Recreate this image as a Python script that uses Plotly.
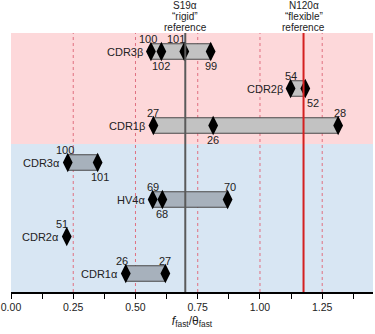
import plotly.graph_objects as go

# ---- data ----
regions = ["CDR3β", "CDR2β", "CDR1β", "CDR3α", "HV4α", "CDR2α", "CDR1α"]
chain = ["β", "β", "β", "α", "α", "α", "α"]
residue_values = [
    [0.562, 0.604, 0.696, 0.802],
    [1.123, 1.182],
    [0.572, 0.812, 1.314],
    [0.228, 0.348],
    [0.569, 0.608, 0.870],
    [0.224],
    [0.461, 0.620],
]
residue_labels = [
    ["100", "102", "101", "99"],
    ["54", "52"],
    ["27", "26", "28"],
    ["100", "101"],
    ["69", "68", "70"],
    ["51"],
    ["26", "27"],
]
label_side = [
    ["up", "down", "up", "down"],
    ["up", "down"],
    ["up", "down", "up"],
    ["up", "down"],
    ["up", "down", "up"],
    ["up"],
    ["up", "up"],
]
label_dx = [
    [-3, 0, -8, 0],
    [0, 8],
    [0, 0, 2],
    [-3, 2],
    [0, 0, 2],
    [-5],
    [-4, 0],
]
rigid_ref = 0.70
flexible_ref = 1.175
rigid_text = ["S19α", "“rigid”", "reference"]
flexible_text = ["N120α", "“flexible”", "reference"]
grid_vals = [0.25, 0.50, 0.75, 1.00, 1.25]
x_ticks = [0.0, 0.25, 0.5, 0.75, 1.0, 1.25]
x_tick_text = ["0.00", "0.25", "0.50", "0.75", "1.00", "1.25"]

FONT = "Liberation Sans, Arial, sans-serif"
n = len(regions)
ypos = [n - 1 - i for i in range(n)]

fig = go.Figure()
shapes = []
annotations = []

# background bands
n_beta = chain.count("β")
shapes.append(dict(type="rect", xref="paper", yref="y", x0=0, x1=1,
                   y0=n - 1 - n_beta + 0.5, y1=n - 0.5, fillcolor="#fdd8da",
                   line_width=0, layer="below"))
shapes.append(dict(type="rect", xref="paper", yref="y", x0=0, x1=1,
                   y0=-0.5, y1=n - 1 - n_beta + 0.5, fillcolor="#d8e6f3",
                   line_width=0, layer="below"))
# dotted grid lines
for g in grid_vals:
    shapes.append(dict(type="line", xref="x", yref="y", x0=g, x1=g, y0=-0.5, y1=n - 0.5,
                       line=dict(color="#e07080", width=1, dash="dot"), layer="below"))

# boxes
for i, vals in enumerate(residue_values):
    y = ypos[i]
    if len(vals) > 1:
        fill = "#c2c2c2" if chain[i] == "β" else "#a7b1bc"
        shapes.append(dict(type="rect", xref="x", yref="y", x0=min(vals), x1=max(vals),
                           y0=y - 0.21, y1=y + 0.21, fillcolor=fill,
                           line=dict(color="#4a4a4a", width=1.2), layer="below"))

# reference lines
shapes.append(dict(type="line", xref="x", yref="paper", x0=rigid_ref, x1=rigid_ref, y0=0, y1=1,
                   line=dict(color="#5a5a5a", width=2)))
shapes.append(dict(type="line", xref="x", yref="paper", x0=flexible_ref, x1=flexible_ref, y0=0, y1=1,
                   line=dict(color="#d42020", width=2)))

# diamonds + labels
xs, ys = [], []
for i, vals in enumerate(residue_values):
    y = ypos[i]
    for j, v in enumerate(vals):
        xs.append(v)
        ys.append(y)
        up = label_side[i][j] == "up"
        annotations.append(dict(x=v, y=y, xref="x", yref="y", text=residue_labels[i][j],
                                showarrow=False, xanchor="center",
                                yanchor="bottom" if up else "top",
                                yshift=5 if up else -6, xshift=label_dx[i][j],
                                font=dict(size=11, color="#222", family=FONT)))
    annotations.append(dict(x=min(vals), y=y, xref="x", yref="y", text=regions[i],
                            showarrow=False, xanchor="right", yanchor="middle", xshift=-6,
                            font=dict(size=11, color="#222", family=FONT)))

# reference labels (above plot), one annotation per line
for xref_val, lines in ((rigid_ref, rigid_text), (flexible_ref, flexible_text)):
    for k, line in enumerate(lines):
        annotations.append(dict(x=xref_val, y=1, xref="x", yref="paper", yanchor="middle",
                                text=line, showarrow=False, yshift=28 - 11 * k,
                                font=dict(size=10, color="#222", family=FONT)))

fig.add_trace(go.Scatter(x=xs, y=ys, mode="markers",
                         marker=dict(symbol="diamond-tall", size=14, color="black",
                                     line=dict(width=0)),
                         hoverinfo="x", showlegend=False))

fig.update_layout(
    width=375, height=334,
    margin=dict(l=11, r=2, t=33, b=42),
    paper_bgcolor="white", plot_bgcolor="white",
    shapes=shapes, annotations=annotations, showlegend=False,
    font=dict(family=FONT, size=11, color="#222"),
    xaxis=dict(range=[0, 1.454], tickvals=x_ticks, ticktext=x_tick_text,
               showgrid=False, zeroline=False, showline=True, linecolor="black", linewidth=1.5,
               ticks="outside", ticklen=5, tickwidth=1.2, tickcolor="black",
               minor=dict(dtick=0.125, tick0=0.125, ticks="outside", ticklen=5,
                          tickwidth=1.2, tickcolor="black"),
               tickfont=dict(size=10.5, family=FONT, color="#222"),
               title=dict(text="<i>f</i><sub>fast</sub>/θ<sub>fast</sub>", standoff=4,
                          font=dict(size=12, family=FONT, color="#222"))),
    yaxis=dict(range=[-0.5, n - 0.5], visible=False, fixedrange=True),
)

fig.write_html("out.html", config={"displayModeBar": False},
               post_script="document.body.style.margin='0px';")
